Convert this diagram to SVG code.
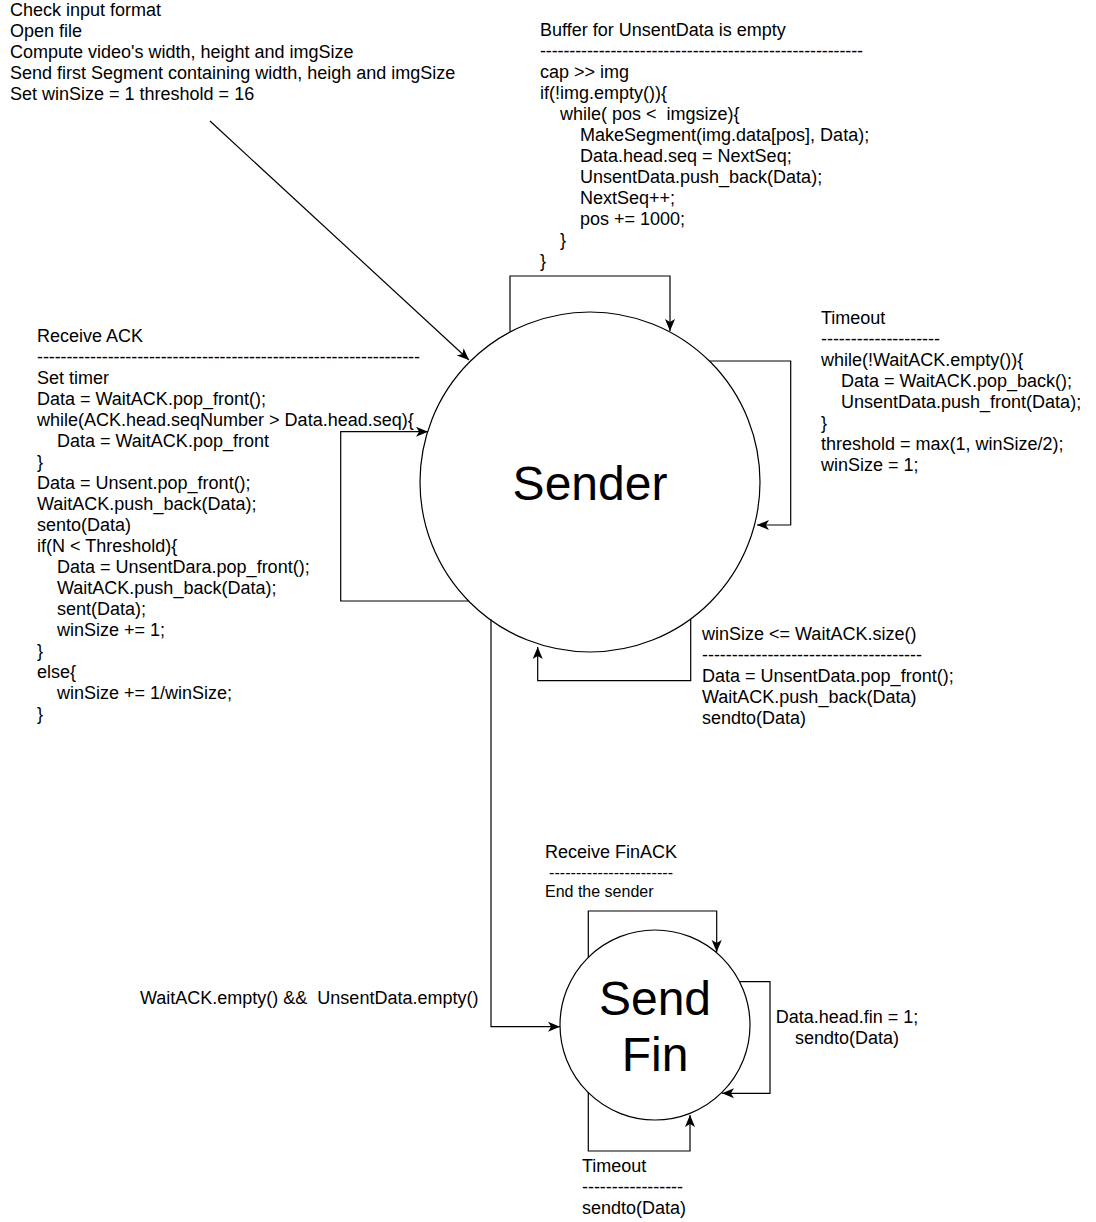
<svg xmlns="http://www.w3.org/2000/svg" width="1096" height="1222" viewBox="0 0 1096 1222">
<style>
text{font-family:"Liberation Sans",Arial,Helvetica,sans-serif;font-size:18px;fill:#000;white-space:pre}
.sm{font-size:16px}
.big{font-size:48px;text-anchor:middle}
.st{fill:#fff;stroke:#000;stroke-width:1.2}
.cn{fill:none;stroke:#000;stroke-width:1.2}
</style>
<defs>
<marker id="ar" markerUnits="userSpaceOnUse" markerWidth="12" markerHeight="12" refX="10" refY="5" orient="auto" viewBox="0 0 10 10">
<path d="M0,0.8 L10,5 L0,9.2 L2.6,5 Z" fill="#000"/>
</marker>
</defs>
<rect width="1096" height="1222" fill="#fff"/>
<g id="sender">
<circle class="st" cx="590" cy="482" r="170"/>
<text class="big" x="590" y="500">Sender</text>
</g>
<g id="sendfin">
<circle class="st" cx="655" cy="1025" r="95"/>
<text class="big" x="655" y="1015">Send</text>
<text class="big" x="655" y="1071">Fin</text>
</g>
<g id="connectors">
<path class="cn" d="M210,121 L469,360" marker-end="url(#ar)"/>
<path class="cn" d="M510,331.6 V276 H670 V331" marker-end="url(#ar)"/>
<path class="cn" d="M710,361 H790.7 V525 H757" marker-end="url(#ar)"/>
<path class="cn" d="M469,601 H340.7 V431.7 H428" marker-end="url(#ar)"/>
<path class="cn" d="M690.7,619 V680.7 H537.7 V647" marker-end="url(#ar)"/>
<path class="cn" d="M491,619.5 V1026.7 H560" marker-end="url(#ar)"/>
<path class="cn" d="M588.3,957.7 V911 H716.7 V952" marker-end="url(#ar)"/>
<path class="cn" d="M739.5,981.7 H770 V1093.3 H722" marker-end="url(#ar)"/>
<path class="cn" d="M588.3,1092 V1151 H690 V1115" marker-end="url(#ar)"/>
</g>
<g id="label-init">
<text x="10" y="16">Check input format</text>
<text x="10" y="37">Open file</text>
<text x="10" y="58">Compute video's width, height and imgSize</text>
<text x="10" y="79">Send first Segment containing width, heigh and imgSize</text>
<text x="10" y="100">Set winSize = 1 threshold = 16</text>
</g>
<g id="label-buffer">
<text x="540" y="36">Buffer for UnsentData is empty</text>
<text x="540" y="57" textLength="323" lengthAdjust="spacing">-------------------------------------------------------</text>
<text x="540" y="78">cap &gt;&gt; img</text>
<text x="540" y="99">if(!img.empty()){</text>
<text x="560" y="120">while( pos &lt;  imgsize){</text>
<text x="580" y="141">MakeSegment(img.data[pos], Data);</text>
<text x="580" y="162">Data.head.seq = NextSeq;</text>
<text x="580" y="183">UnsentData.push_back(Data);</text>
<text x="580" y="204">NextSeq++;</text>
<text x="580" y="225">pos += 1000;</text>
<text x="560" y="246">}</text>
<text x="540" y="267">}</text>
</g>
<g id="label-recvack">
<text x="37" y="342">Receive ACK</text>
<text x="37" y="363" textLength="383" lengthAdjust="spacing">-----------------------------------------------------------------</text>
<text x="37" y="384">Set timer</text>
<text x="37" y="405">Data = WaitACK.pop_front();</text>
<text x="37" y="426">while(ACK.head.seqNumber &gt; Data.head.seq){</text>
<text x="57" y="447">Data = WaitACK.pop_front</text>
<text x="37" y="468">}</text>
<text x="37" y="489">Data = Unsent.pop_front();</text>
<text x="37" y="510">WaitACK.push_back(Data);</text>
<text x="37" y="531">sento(Data)</text>
<text x="37" y="552">if(N &lt; Threshold){</text>
<text x="57" y="573">Data = UnsentDara.pop_front();</text>
<text x="57" y="594">WaitACK.push_back(Data);</text>
<text x="57" y="615">sent(Data);</text>
<text x="57" y="636">winSize += 1;</text>
<text x="37" y="657">}</text>
<text x="37" y="678">else{</text>
<text x="57" y="699">winSize += 1/winSize;</text>
<text x="37" y="720">}</text>
</g>
<g id="label-timeout">
<text x="821" y="324">Timeout</text>
<text x="821" y="345" textLength="119" lengthAdjust="spacing">--------------------</text>
<text x="821" y="366">while(!WaitACK.empty()){</text>
<text x="841" y="387">Data = WaitACK.pop_back();</text>
<text x="841" y="408">UnsentData.push_front(Data);</text>
<text x="821" y="429">}</text>
<text x="821" y="450">threshold = max(1, winSize/2);</text>
<text x="821" y="471">winSize = 1;</text>
</g>
<g id="label-winsize">
<text x="702" y="640">winSize &lt;= WaitACK.size()</text>
<text x="702" y="661" textLength="220" lengthAdjust="spacing">-------------------------------------</text>
<text x="702" y="682">Data = UnsentData.pop_front();</text>
<text x="702" y="703">WaitACK.push_back(Data)</text>
<text x="702" y="724">sendto(Data)</text>
</g>
<g id="label-tofin">
<text x="140" y="1004">WaitACK.empty() &amp;&amp;  UnsentData.empty()</text>
</g>
<g id="label-finack">
<text x="545" y="858">Receive FinACK</text>
<text class="sm" x="549" y="878" textLength="124" lengthAdjust="spacing">-----------------------</text>
<text class="sm" x="545" y="897">End the sender</text>
</g>
<g id="label-fin">
<text x="847" y="1023" text-anchor="middle">Data.head.fin = 1;</text>
<text x="847" y="1044" text-anchor="middle">sendto(Data)</text>
</g>
<g id="label-fintimeout">
<text x="582" y="1172">Timeout</text>
<text x="582" y="1193" textLength="101" lengthAdjust="spacing">-----------------</text>
<text x="582" y="1214">sendto(Data)</text>
</g>
</svg>
